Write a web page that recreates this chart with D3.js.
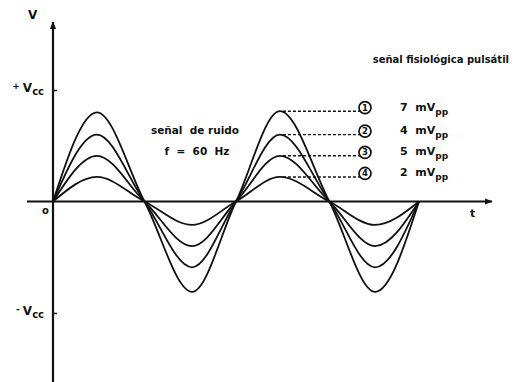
<!DOCTYPE html>
<html>
<head>
<meta charset="utf-8">
<script src="https://cdn.jsdelivr.net/npm/d3@7"></script>
<style>
  body { margin: 0; background: #fff; }
  svg { display: block; }
  text { font-family: "DejaVu Sans", sans-serif; font-weight: bold; fill: #111; white-space: pre; }
  .wave { fill: none; stroke: #111; stroke-width: 1.8; stroke-linejoin: round; }
  .axisline { stroke: #111; stroke-width: 2.2; }
  .lead { stroke: #111; stroke-width: 1.4; stroke-dasharray: 3 2; }
</style>
</head>
<body>
<svg width="517" height="382"></svg>
<script>
// time in periods of the 60 Hz noise signal (1 period = 16.7 ms)
var tKnots = [0, 0.24, 0.5, 0.76, 1, 1.24, 1.51, 1.76, 2];

// amplitudes, in units of Vcc
var wave1 = [0, 0.80, 0, -0.81, 0, 0.81, 0, -0.81, 0];
var wave2 = [0, 0.60, 0, -0.59, 0, 0.60, 0, -0.59, 0];
var wave3 = [0, 0.41, 0, -0.40, 0, 0.41, 0, -0.40, 0];
var wave4 = [0, 0.22, 0, -0.21, 0, 0.22, 0, -0.21, 0];
var waves = [wave1, wave2, wave3, wave4];

var markers = ["1", "2", "3", "4"];
var amplitudesMv = ["7", "4", "5", "2"];

var yTickValues = [1, -1];

var svg = d3.select("svg");

var x = d3.scaleLinear().domain([0, 2]).range([53, 419]),
    y = d3.scaleLinear().domain([-1, 1]).range([313, 90]);

var defs = svg.append("defs");
defs.append("marker")
    .attr("id", "arrow")
    .attr("viewBox", "0 0 10 10")
    .attr("refX", 9).attr("refY", 5)
    .attr("markerWidth", 3.5).attr("markerHeight", 3.5)
    .attr("orient", "auto")
  .append("path")
    .attr("d", "M0,1 L10,5 L0,9 Z")
    .attr("fill", "#111");

// axes
svg.append("line")
    .attr("class", "axisline")
    .attr("x1", x(0)).attr("y1", 382)
    .attr("x2", x(0)).attr("y2", 22)
    .attr("marker-end", "url(#arrow)");

svg.append("line")
    .attr("class", "axisline")
    .attr("x1", 27).attr("y1", y(0))
    .attr("x2", 492).attr("y2", y(0))
    .attr("marker-end", "url(#arrow)");

var yAxis = d3.axisRight(y).tickValues(yTickValues).tickSize(4).tickFormat("");
var gy = svg.append("g")
    .attr("transform", "translate(" + x(0) + ",0)")
    .call(yAxis);
gy.select(".domain").remove();
gy.selectAll(".tick line").attr("stroke", "#111").attr("stroke-width", 1.5);

// axis labels
svg.append("text").attr("x", 28).attr("y", 19).attr("font-size", 12).text("V");
svg.append("text").attr("x", 42).attr("y", 214).attr("font-size", 10).text("o");
svg.append("text").attr("x", 470).attr("y", 217).attr("font-size", 11).text("t");

var vccLabels = svg.selectAll(".vcc").data(yTickValues).enter().append("text")
    .attr("class", "vcc")
    .attr("text-anchor", "end")
    .attr("x", 44)
    .attr("y", function(d) { return y(d) + 2; })
    .attr("font-size", 12);
vccLabels.append("tspan")
    .attr("font-size", 9)
    .attr("dy", -3)
    .text(function(d) { return d > 0 ? "+ " : "- "; });
vccLabels.append("tspan").attr("dy", 3).text("V");
vccLabels.append("tspan").attr("font-size", 10).attr("dy", 3).text("cc");

// the four noise waves
var line = d3.line()
    .x(function(d, i) { return x(tKnots[i]); })
    .y(function(d) { return y(d); })
    .curve(d3.curveMonotoneX);

svg.selectAll(".wave").data(waves).enter().append("path")
    .attr("class", "wave")
    .attr("d", line);

// leaders from the second peak to the numbered circles
var circleX = 365;
var leads = svg.selectAll(".leadg").data(waves).enter().append("g").attr("class", "leadg");

leads.append("line")
    .attr("class", "lead")
    .attr("x1", function(d) { return x(tKnots[5]) + 3; })
    .attr("x2", circleX - 5)
    .attr("y1", function(d) { return y(d[5]); })
    .attr("y2", function(d) { return y(d[5]); });

leads.append("circle")
    .attr("cx", circleX)
    .attr("cy", function(d) { return y(d[5]) - 3.5; })
    .attr("r", 6)
    .attr("fill", "#fff")
    .attr("stroke", "#111")
    .attr("stroke-width", 1.7);

leads.append("text")
    .attr("x", circleX)
    .attr("y", function(d) { return y(d[5]) - 0.5; })
    .attr("text-anchor", "middle")
    .attr("font-size", 8.5)
    .text(function(d, i) { return markers[i]; });

var valueText = leads.append("text")
    .attr("x", 400)
    .attr("y", function(d) { return y(d[5]) - 0.5; })
    .attr("font-size", 11);
valueText.append("tspan").text(function(d, i) { return amplitudesMv[i] + "  mV"; });
valueText.append("tspan").attr("font-size", 9).attr("dy", 4).text("pp");

// annotations
svg.append("text").attr("x", 195).attr("y", 134).attr("text-anchor", "middle")
    .attr("font-size", 10.5).text("señal  de ruido");
svg.append("text").attr("x", 197).attr("y", 155).attr("text-anchor", "middle")
    .attr("font-size", 10.5).text("f  =  60  Hz");
svg.append("text").attr("x", 509).attr("y", 63).attr("text-anchor", "end")
    .attr("font-size", 10).text("señal fisiológica pulsátil");
</script>
</body>
</html>
